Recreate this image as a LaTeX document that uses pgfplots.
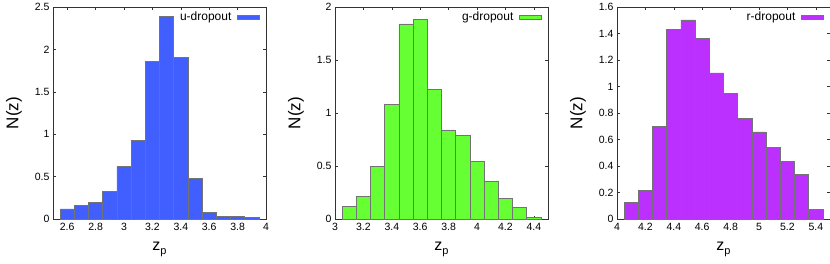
\documentclass[border=0pt]{standalone}
\usepackage{fontspec}
\setmainfont{Liberation Sans}
\usepackage{pgfplots}
\usepackage{pgfplotstable}
\pgfplotsset{compat=1.18}
\definecolor{ublue}{RGB}{65,95,255}
\definecolor{ggreen}{RGB}{102,255,51}
\definecolor{rpurple}{RGB}{187,48,255}
\pgfplotstableread{
z n
2.6 0.12
2.7 0.165
2.8 0.20
2.9 0.33
3.0 0.62
3.1 0.925
3.2 1.86
3.3 2.385
3.4 1.91
3.5 0.48
3.6 0.08
3.7 0.035
3.8 0.032
3.9 0.022
}\udata
\pgfplotstableread{
z n
3.1 0.12
3.2 0.21
3.3 0.50
3.4 1.08
3.5 1.84
3.6 1.885
3.7 1.22
3.8 0.84
3.9 0.79
4.0 0.54
4.1 0.355
4.2 0.195
4.3 0.107
4.4 0.016
}\gdata
\pgfplotstableread{
z n
4.1 0.128
4.2 0.213
4.3 0.696
4.4 1.428
4.5 1.503
4.6 1.365
4.7 1.103
4.8 0.947
4.9 0.760
5.0 0.658
5.1 0.540
5.2 0.435
5.3 0.334
5.4 0.075
}\rdata
\pgfplotsset{
  hist/.style={
    scale only axis, width=213pt, height=212pt,
    ymin=0,
    axis line style={black!80, line width=0.5pt},
    tick align=inside,
    major tick length=3pt,
    tick style={black!80, line width=0.5pt},
    minor tick num=0,
    ticklabel style={font=\fontsize{10.5}{12}\selectfont},
    /pgf/number format/assume math mode=true,
    xticklabel style={yshift=-0.5pt},
    every axis y label/.style={at={(axis description cs:-0.183,0.5)}, anchor=center, rotate=90, font=\fontsize{17}{19}\selectfont},
    every axis x label/.style={at={(axis description cs:0.5,-0.145)}, anchor=center, font=\fontsize{16}{18}\selectfont},
    ylabel={N(z)},
    xlabel={z\raisebox{-0.45ex}{\fontsize{11}{12}\selectfont p}},
    legend plot pos=right,
    legend cell align=right,
    legend style={draw=none, fill=none, at={(rel axis cs:1,1)}, anchor=north east, xshift=-5pt, yshift=-2pt, font=\fontsize{12}{14}\selectfont, inner sep=1pt, column sep=4pt},
    legend image code/.code={\draw[##1, line width=0.4pt] (0pt,-2pt) rectangle (22pt,2pt);},
  },
  bars/.style={ybar, bar width=0.1, bar shift=0pt, fill=#1, draw=black!55, line width=0.6pt},
}
\begin{document}
\begin{tikzpicture}
\path[use as bounding box] (0,0) rectangle (830pt,263pt);
\begin{axis}[hist, at={(53pt,44pt)}, anchor=south west,
  xmin=2.5, xmax=4, ymax=2.5,
  xtick={2.6,2.8,3,3.2,3.4,3.6,3.8,4},
  xticklabels={2.6,2.8,3,3.2,3.4,3.6,3.8,4},
  ytick={0,0.5,1,1.5,2,2.5},
  yticklabels={0,0.5,1,1.5,2,2.5}]
\addplot[bars=ublue] table[x=z,y=n]{\udata};
\addlegendentry{u-dropout}
\end{axis}
\begin{axis}[hist, at={(335pt,44pt)}, anchor=south west,
  xmin=3, xmax=4.5, ymax=2,
  xtick={3,3.2,3.4,3.6,3.8,4,4.2,4.4},
  xticklabels={3,3.2,3.4,3.6,3.8,4,4.2,4.4},
  ytick={0,0.5,1,1.5,2},
  yticklabels={0,0.5,1,1.5,2}]
\addplot[bars=ggreen] table[x=z,y=n]{\gdata};
\addlegendentry{g-dropout}
\end{axis}
\begin{axis}[hist, at={(617pt,44pt)}, anchor=south west,
  xmin=4, xmax=5.5, ymax=1.6,
  xtick={4,4.2,4.4,4.6,4.8,5,5.2,5.4},
  xticklabels={4,4.2,4.4,4.6,4.8,5,5.2,5.4},
  ytick={0,0.2,0.4,0.6,0.8,1,1.2,1.4,1.6},
  yticklabels={0,0.2,0.4,0.6,0.8,1,1.2,1.4,1.6}]
\addplot[bars=rpurple] table[x=z,y=n]{\rdata};
\addlegendentry{r-dropout}
\end{axis}
\end{tikzpicture}
\end{document}
